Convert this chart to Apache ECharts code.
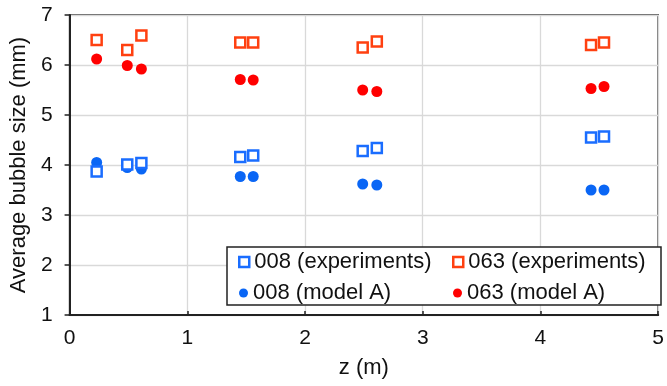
<!DOCTYPE html>
<html>
<head>
<meta charset="utf-8">
<script src="https://cdn.jsdelivr.net/npm/echarts@6/dist/echarts.min.js"></script>
<style>
  html, body { margin: 0; padding: 0; background: #fff; }
  #main { width: 667px; height: 386px; }
</style>
</head>
<body>
<div id="main"></div>
<script>
// z positions (m)
const zPos = [0.23, 0.49, 0.61, 1.45, 1.56, 2.49, 2.61, 4.43, 4.54];
// average bubble size (mm)
const exp008 = [3.87, 4.01, 4.04, 4.16, 4.19, 4.28, 4.34, 4.55, 4.57];
const exp063 = [6.50, 6.30, 6.59, 6.45, 6.45, 6.35, 6.47, 6.40, 6.45];
const modA008 = [4.05, 3.95, 3.92, 3.77, 3.77, 3.62, 3.60, 3.50, 3.50];
const modA063 = [6.12, 5.99, 5.92, 5.71, 5.70, 5.50, 5.47, 5.53, 5.57];
const xTicks = [0, 1, 2, 3, 4, 5];
const yTicks = [1, 2, 3, 4, 5, 6, 7];

const names = ['008 (experiments)', '063 (experiments)', '008 (model A)', '063 (model A)'];
const BLUE_SQ = '#1a6dff', RED_SQ = '#ff4010', BLUE_C = '#0a66f5', RED_C = '#ff0000';
const font = 'Liberation Sans, Arial, sans-serif';

const pts = (ys) => zPos.map((z, i) => [z, ys[i]]);

// one legend block per entry so the two columns line up
function legendAt(name, left, top, icon, style, size) {
    return {
        data: [{ name: name, icon: icon, itemStyle: style }],
        left: left, top: top, padding: 0,
        itemWidth: size, itemHeight: size,
        selectedMode: false,
        textStyle: { fontFamily: font, fontSize: 22, color: '#111', lineHeight: 22 }
    };
}

const myChart = echarts.init(document.getElementById('main'));
const option = {
    animation: false,
    grid: {
        left: 65, right: 6, top: 15, bottom: 71,
        show: true, borderColor: '#222', borderWidth: 1.5
    },
    graphic: [{
        type: 'rect', z: 5,
        shape: { x: 227, y: 247, width: 434, height: 58 },
        style: { fill: '#fff', stroke: '#222', lineWidth: 1.5 }
    }],
    legend: [
        legendAt(names[0], 238, 251, 'rect', { color: '#fff', borderColor: BLUE_SQ, borderWidth: 2.5 }, 10),
        legendAt(names[1], 452, 251, 'rect', { color: '#fff', borderColor: RED_SQ, borderWidth: 2.5 }, 10),
        legendAt(names[2], 239, 282, 'circle', { color: BLUE_C, borderWidth: 0 }, 9),
        legendAt(names[3], 453, 282, 'circle', { color: RED_C, borderWidth: 0 }, 9)
    ].map(l => Object.assign(l, { z: 10 })),
    xAxis: {
        type: 'value', min: xTicks[0], max: xTicks[xTicks.length - 1], interval: 1,
        name: 'z (m)', nameLocation: 'middle', nameGap: 42,
        nameTextStyle: { fontFamily: font, fontSize: 22, color: '#111' },
        axisLine: { onZero: false, lineStyle: { color: '#222', width: 2 } },
        axisTick: { inside: true, length: 4, lineStyle: { color: '#222', width: 1.5 } },
        axisLabel: { margin: 13, fontFamily: font, fontSize: 21, color: '#111' },
        splitLine: { lineStyle: { color: '#d9d9d9', width: 1.3 } }
    },
    yAxis: {
        type: 'value', min: yTicks[0], max: yTicks[yTicks.length - 1], interval: 1,
        name: 'Average bubble size (mm)', nameLocation: 'middle', nameGap: 35,
        nameTextStyle: { fontFamily: font, fontSize: 22, color: '#111' },
        axisLine: { onZero: false, lineStyle: { color: '#222', width: 2 } },
        axisTick: { inside: false, length: 5, lineStyle: { color: '#222', width: 1.5 } },
        axisLabel: { margin: 17, fontFamily: font, fontSize: 21, color: '#111' },
        splitLine: { lineStyle: { color: '#d9d9d9', width: 1.3 } }
    },
    series: [
        { name: names[2], type: 'scatter', symbol: 'circle', symbolSize: 11,
          itemStyle: { color: BLUE_C, opacity: 1 }, data: pts(modA008) },
        { name: names[3], type: 'scatter', symbol: 'circle', symbolSize: 11,
          itemStyle: { color: RED_C, opacity: 1 }, data: pts(modA063) },
        { name: names[0], type: 'scatter', symbol: 'rect', symbolSize: 10,
          itemStyle: { color: '#fff', borderColor: BLUE_SQ, borderWidth: 2.5, opacity: 1 }, data: pts(exp008) },
        { name: names[1], type: 'scatter', symbol: 'rect', symbolSize: 10,
          itemStyle: { color: '#fff', borderColor: RED_SQ, borderWidth: 2.5, opacity: 1 }, data: pts(exp063) }
    ]
};
myChart.setOption(option);
</script>
</body>
</html>
